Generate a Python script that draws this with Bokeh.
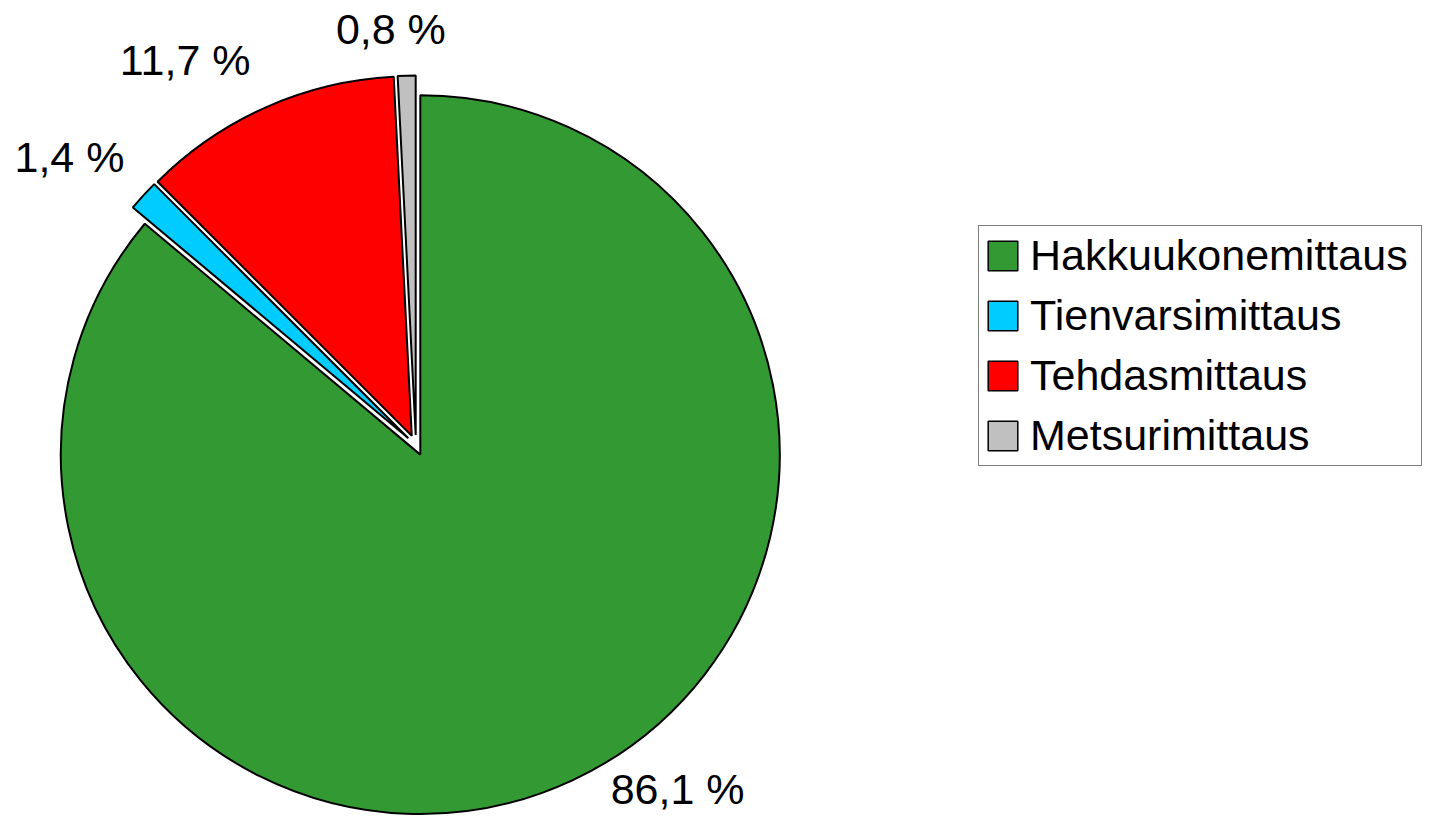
import math
from bokeh.plotting import figure
from bokeh.models import Range1d, ColumnDataSource, Legend, LegendItem
from bokeh.embed import file_html
from bokeh.resources import INLINE
from bokeh.core.properties import value

# ---- data ----
categories = ["Hakkuukonemittaus", "Tienvarsimittaus", "Tehdasmittaus", "Metsurimittaus"]
shares = [86.1, 1.4, 11.7, 0.8]
colors = ["#339933", "#00CCFF", "#FF0000", "#C0C0C0"]

# ---- layout (reference pixel units) ----
W, H = 1436, 816
REF_W, REF_H = 1452, 832
scale = H / REF_H
CX, CY = 423.6, REF_H - 453.5
R = 366.5
EXPLODE = 10.5
LABEL_GAP = 60
LABEL_NUDGE = [(82, 46), (-31, -1), (-58, -7), (-14.6, -12)]  # (dx, dy) with y up
FONT = "Liberation Sans"

p = figure(width=W, height=H, x_range=Range1d(0, W / scale), y_range=Range1d(0, REF_H),
           output_backend="svg", toolbar_location=None, min_border=0)
p.axis.visible = False
p.grid.visible = False
p.outline_line_color = None
p.background_fill_color = "white"

total = sum(shares)
starts, ends, xs, ys, lx, ly, labels = [], [], [], [], [], [], []
cum = 0.0
for i, v in enumerate(shares):
    a0 = math.pi / 2 - 2 * math.pi * cum / total
    a1 = math.pi / 2 - 2 * math.pi * (cum + v) / total
    mid = (a0 + a1) / 2
    cum += v
    starts.append(a0)
    ends.append(a1)
    xs.append(CX + EXPLODE * math.cos(mid))
    ys.append(CY + EXPLODE * math.sin(mid))
    rr = EXPLODE + R + LABEL_GAP
    lx.append(CX + rr * math.cos(mid) + LABEL_NUDGE[i][0])
    ly.append(CY + rr * math.sin(mid) + LABEL_NUDGE[i][1])
    labels.append(f"{v:.1f} %".replace(".", ","))

src = ColumnDataSource(dict(x=xs, y=ys, start=starts, end=ends, color=colors))
p.wedge(x="x", y="y", radius=R, start_angle="start", end_angle="end", direction="clock",
        fill_color="color", line_color="black", line_width=2, source=src)

lsrc = ColumnDataSource(dict(x=lx, y=ly, text=labels))
p.text(x="x", y="y", text="text", source=lsrc, text_align="center", text_baseline="middle",
       text_font=value(FONT), text_font_size="43px", text_color="black")

nan = float("nan")
items = []
for cat, c in zip(categories, colors):
    r = p.quad(left=[nan], right=[nan], top=[nan], bottom=[nan],
               fill_color=c, line_color="black", line_width=1.5)
    items.append(LegendItem(label=cat, renderers=[r]))

legend = Legend(items=items, location=(978, 350), orientation="vertical",
                label_text_font=FONT, label_text_font_size="43px", label_text_color="black",
                glyph_width=37, glyph_height=37, label_height=37, label_standoff=9,
                label_width=386, padding=5, spacing=11, margin=0,
                border_line_color="black", border_line_width=1.5,
                background_fill_color="white", background_fill_alpha=1.0)
p.add_layout(legend)

open("out.html", "w").write(file_html(p, INLINE))
